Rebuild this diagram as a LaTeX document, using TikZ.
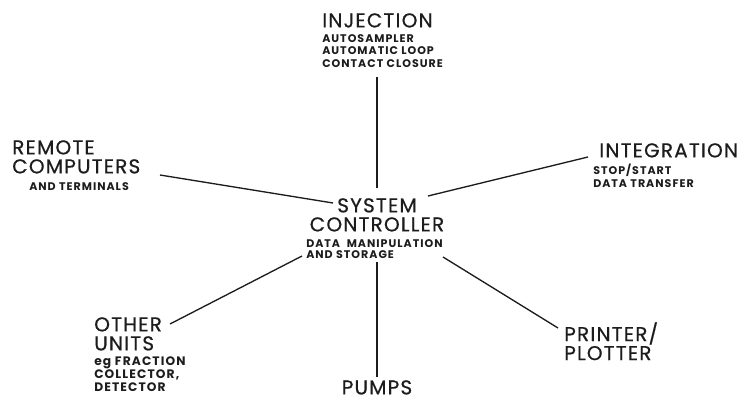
\documentclass[tikz,border=0pt]{standalone}
\usepackage{fontspec}
\usepackage{tikz}
\usetikzlibrary{positioning}
\newfontfamily\headfont[LetterSpace=6, FakeBold=0.6]{Poppins}
\newfontfamily\subfont[LetterSpace=9]{Poppins}
\definecolor{ink}{HTML}{1C1C1C}

\tikzset{
  head/.style={font=\headfont\fontsize{15}{14.25}\selectfont, text=ink, inner sep=0pt, align=left, anchor=north west},
  subtext/.style={font=\subfont\bfseries\fontsize{8.3}{9.6}\selectfont, text=ink, inner sep=0pt, align=left, anchor=north west},
  spoke/.style={ink, line width=1pt}
}

\begin{document}
\begin{tikzpicture}[x=0.75pt, y=-0.75pt]
        \useasboundingbox (0,0) rectangle (740,399);
        % hub
        \node[head, align=center, anchor=north] (ctrl) at (377,198) {SYSTEM\\CONTROLLER};
        \node[subtext, font=\subfont\bfseries\fontsize{8.3}{8.4}\selectfont] (ctrlsub) at (306,239) {DATA\hspace{5pt}MANIPULATION\\AND STORAGE};
        % outer units
        \node[head] (inj) at (322,13) {INJECTION};
        \node[subtext] (injsub) at (322,34) {AUTOSAMPLER\\AUTOMATIC LOOP\\CONTACT CLOSURE};
        \node[head] (rem) at (12,140) {REMOTE\\COMPUTERS};
        \node[subtext] (remsub) at (29,182) {AND TERMINALS};
        \node[head] (integ) at (599,143) {INTEGRATION};
        \node[subtext] (integsub) at (593,164) {STOP/START\\DATA TRANSFER};
        \node[head] (prn) at (564,322) {PRINTER/\\PLOTTER};
        \node[head, anchor=north, text depth=0pt] (pumps) at (377,380) {PUMPS};
        \node[head] (other) at (94,317) {OTHER\\UNITS};
        \node[subtext, font=\subfont\bfseries\fontsize{9.2}{9.4}\selectfont] (othersub) at (94,357) {eg FRACTION\\COLLECTOR,\\DETECTOR};
        % spokes
        \draw[spoke] ([shift={(55,43)}]injsub.north west) -- ([shift={(0,-10)}]ctrl.north);
        \draw[spoke] ([shift={(148,35)}]rem.north west) -- ([shift={(-44,5)}]ctrl.north);
        \draw[spoke] ([shift={(-11,14)}]integ.north west) -- ([shift={(51,-2)}]ctrl.north);
        \draw[spoke] ([shift={(-6,6)}]prn.north west) -- ([shift={(66,59)}]ctrl.north);
        \draw[spoke] ([shift={(0,-3)}]pumps.north) -- ([shift={(0,64)}]ctrl.north);
        \draw[spoke] ([shift={(76,7)}]other.north west) -- ([shift={(-75,58)}]ctrl.north);
\end{tikzpicture}
\end{document}
